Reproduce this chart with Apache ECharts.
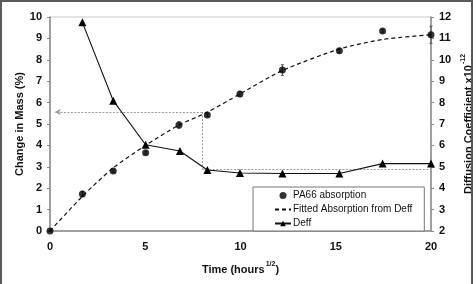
<!DOCTYPE html>
<html><head><meta charset="utf-8">
<script src="https://cdn.jsdelivr.net/npm/echarts@6/dist/echarts.min.js"></script>
<style>
html,body{margin:0;padding:0;background:#fff;overflow:hidden;}
#frame{position:absolute;left:0;top:0;width:469px;height:300px;border:2px solid #5a5a5a;box-sizing:content-box;pointer-events:none;z-index:2;}
#c{position:absolute;left:0;top:0;width:476px;height:284px;}
</style></head>
<body>
<div id="c"></div>
<div id="frame"></div>
<script>
// Data
var timeX      = [0, 1.7, 3.32, 5.02, 6.77, 8.26, 9.97, 12.2, 15.19, 17.46, 20];
var absorption = [0, 1.73, 2.80, 3.66, 4.95, 5.42, 6.40, 7.52, 8.42, 9.35, 9.17];
var absErr     = [0, 0.12, 0.06, 0.06, 0.15, 0.06, 0.12, 0.25, 0.10, 0.06, 0.40];
var fitted     = [0, 1.62, 2.95, 4.00, 4.95, 5.55, 6.40, 7.50, 8.50, 8.95, 9.17];
var deffX      = [1.7, 3.32, 5.02, 6.82, 8.26, 9.97, 12.2, 15.19, 17.46, 20];
var deff       = [11.75, 8.09, 6.03, 5.74, 4.85, 4.71, 4.69, 4.69, 5.15, 5.15];
var guideMass  = 5.56;
var guideT     = 8.0;
var guideDeff  = 4.9;    // Deff level (right axis)
var xTicks     = [0, 5, 10, 15, 20];
var leftTicks  = [0, 10];
var rightTicks = [2, 12];

var font = 'Liberation Sans, Arial, sans-serif';
var chart = echarts.init(document.getElementById('c'), null, {renderer: 'canvas'});

function pairs(xs, ys){ return xs.map(function(x,i){ return [x, ys[i]]; }); }

var errData = timeX.map(function(x,i){ return [x, absorption[i] - absErr[i], absorption[i] + absErr[i]]; });

var option = {
  animation: false,
  textStyle: {fontFamily: font},
  grid: {left: 50, right: 45, top: 17, bottom: 53, outerBoundsMode: 'none', containLabel: false,
         show: true, borderColor: '#c8c8c8', borderWidth: 1, backgroundColor: 'transparent'},
  xAxis: {
    type: 'value', min: xTicks[0], max: xTicks[xTicks.length-1], interval: 5,
    axisLine: {lineStyle: {color: '#8a8a8a', width: 1.5}},
    axisTick: {show: false},
    splitLine: {show: false},
    axisLabel: {color: '#111', fontSize: 11, fontWeight: 'bold', margin: 10, fontFamily: font},
    name: '{a|Time (hours}{s|1/2}{a|)}',
    nameLocation: 'middle', nameGap: 30, nameMoveOverlap: false,
    nameTextStyle: {
      rich: {
        a: {fontSize: 11, fontWeight: 'bold', color: '#111', fontFamily: font, lineHeight: 14, verticalAlign: 'bottom'},
        s: {fontSize: 7, fontWeight: 'bold', color: '#111', fontFamily: font, lineHeight: 12, verticalAlign: 'top', padding: [0,0,0,1]}
      }
    }
  },
  yAxis: [{
    type: 'value', min: leftTicks[0], max: leftTicks[1], interval: 1,
    axisLine: {show: true, lineStyle: {color: '#8a8a8a', width: 1.5}},
    axisTick: {show: true, length: 3, lineStyle: {color: '#8a8a8a'}},
    splitLine: {show: false},
    axisLabel: {color: '#111', fontSize: 11, fontWeight: 'bold', margin: 8, fontFamily: font},
    name: 'Change in Mass (%)', nameLocation: 'middle', nameGap: 25, nameMoveOverlap: false,
    nameTextStyle: {fontSize: 11, fontWeight: 'bold', color: '#111', fontFamily: font}
  }, {
    type: 'value', min: rightTicks[0], max: rightTicks[1], interval: 1, position: 'right',
    axisLine: {show: true, lineStyle: {color: '#8a8a8a', width: 1.5}},
    axisTick: {show: true, length: 3, lineStyle: {color: '#8a8a8a'}},
    splitLine: {show: false},
    axisLabel: {color: '#111', fontSize: 11, fontWeight: 'bold', margin: 8, fontFamily: font},
    name: '{a|Diffusion Coefficient x10}{s|-12}', nameLocation: 'middle', nameGap: 29, nameRotate: 90, nameMoveOverlap: false,
    nameTextStyle: {
      rich: {
        a: {fontSize: 11, fontWeight: 'bold', color: '#111', fontFamily: font, lineHeight: 14, verticalAlign: 'bottom'},
        s: {fontSize: 7, fontWeight: 'bold', color: '#111', fontFamily: font, lineHeight: 14, verticalAlign: 'top', padding: [0,0,4,1]}
      }
    }
  }],
  legend: {
    orient: 'vertical', left: 253, top: 187,
    padding: [3, 12, 2, 21],
    borderColor: '#777', borderWidth: 1, backgroundColor: '#fff',
    itemWidth: 16, itemHeight: 7, itemGap: 3,
    textStyle: {fontSize: 10, color: '#111', fontFamily: font, lineHeight: 11, padding: [0,0,0,-3]},
    data: [
      {name: 'PA66 absorption', icon: 'circle'},
      {name: 'Fitted Absorption from Deff', itemStyle: {opacity: 0}},
      {name: 'Deff'}
    ]
  },
  series: [
    {
      name: 'guide', type: 'line', yAxisIndex: 0, silent: true, symbol: 'none',
      data: [],
      markLine: {
        silent: true, symbol: ['none', 'none'],
        lineStyle: {color: '#9a9a9a', type: [2, 1.5], width: 1},
        label: {show: false},
        data: [
          [{coord: [guideT, guideMass], symbol: 'none'}, {coord: [0.25, guideMass], symbol: 'arrow', symbolSize: [5, 6]}],
          [{coord: [guideT, guideMass]}, {coord: [guideT, guideDeff - rightTicks[0]]}],
          [{coord: [guideT, guideDeff - rightTicks[0]]}, {coord: [20, guideDeff - rightTicks[0]]}]
        ]
      }
    },
    {
      name: 'Fitted Absorption from Deff', type: 'line', yAxisIndex: 0, symbol: 'none', smooth: 0.25,
      lineStyle: {color: '#111', width: 1.2, type: [4, 3]},
      itemStyle: {color: '#111'},
      data: pairs(timeX, fitted), z: 3
    },
    {
      name: 'errbars', type: 'custom', yAxisIndex: 0, silent: true, z: 4,
      renderItem: function(params, api){
        var x = api.value(0);
        var lo = api.coord([x, api.value(1)]);
        var hi = api.coord([x, api.value(2)]);
        var st = {stroke: '#555', lineWidth: 1};
        return {type: 'group', children: [
          {type: 'line', shape: {x1: lo[0], y1: lo[1], x2: hi[0], y2: hi[1]}, style: st},
          {type: 'line', shape: {x1: lo[0]-1.5, y1: lo[1], x2: lo[0]+1.5, y2: lo[1]}, style: st},
          {type: 'line', shape: {x1: hi[0]-1.5, y1: hi[1], x2: hi[0]+1.5, y2: hi[1]}, style: st}
        ]};
      },
      encode: {x: 0, y: [1, 2]},
      data: errData
    },
    {
      name: 'PA66 absorption', type: 'scatter', yAxisIndex: 0, symbol: 'circle', symbolSize: 7,
      itemStyle: {color: '#000'}, z: 5,
      data: pairs(timeX, absorption)
    },
    {
      name: 'Deff', type: 'line', yAxisIndex: 1, symbol: 'triangle', symbolSize: 8, showAllSymbol: true,
      lineStyle: {color: '#111', width: 1.1},
      itemStyle: {color: '#000'}, z: 5,
      data: pairs(deffX, deff)
    }
  ]
};
chart.setOption(option);
</script>
</body></html>
